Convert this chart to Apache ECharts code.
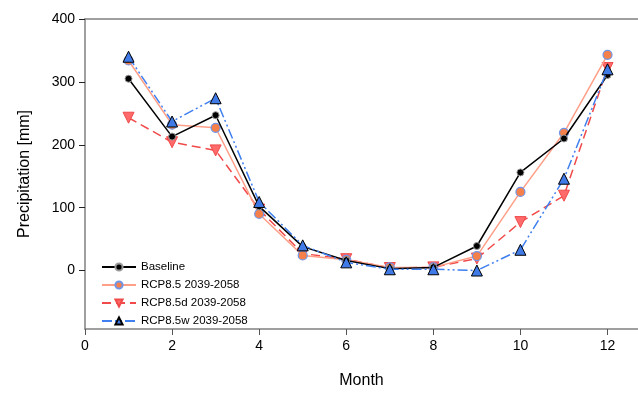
<!DOCTYPE html>
<html>
<head>
<meta charset="utf-8">
<script src="https://cdn.jsdelivr.net/npm/echarts@6/dist/echarts.min.js"></script>
<style>html,body{margin:0;padding:0;background:#fff;}#c{width:638px;height:394px;}</style>
</head>
<body>
<div id="c"></div>
<script>
const months = [1,2,3,4,5,6,7,8,9,10,11,12];
const baseline = [305,213,247,102,38,16,3,5,39,156,210,311];
const rcp85 = [334,232,227,90,24,17,5,5,23,125,219,343];
const rcp85d = [243,204,191,97,27,18,4,5,19,77,119,322];
const rcp85w = [340,237,274,109,40,13,2,2,0,33,146,320];
const seriesNames = ['Baseline','RCP8.5 2039-2058','RCP8.5d 2039-2058','RCP8.5w 2039-2058'];
const xTicks = [0,2,4,6,8,10,12];
const yTicks = [0,100,200,300,400];

function pairs(arr){ return months.map((m,i)=>[m,arr[i]]); }

const chart = echarts.init(document.getElementById('c'));
const font = 'Liberation Sans, Arial, sans-serif';
const axisCol = '#808080';
chart.setOption({
  animation:false,
  backgroundColor:'#fff',
  grid:{left:85,right:0,top:19,bottom:63,show:false},
  legend:{
    orient:'vertical', left:96, top:256, itemGap:6, itemWidth:34, itemHeight:9,
    textStyle:{fontFamily:font,fontSize:11.5,color:'#000'},
    data:seriesNames
  },
  xAxis:[{
    type:'value', min:0, max:12.7, position:'bottom',
    name:'Month', nameLocation:'middle', nameGap:44,
    nameTextStyle:{fontFamily:font,fontSize:16,color:'#000'},
    axisLine:{show:true,onZero:false,lineStyle:{color:axisCol,width:1.5}},
    axisTick:{show:true,inside:false,length:6,customValues:xTicks,lineStyle:{color:'#555'}},
    axisLabel:{fontFamily:font,fontSize:14,color:'#000',margin:10,customValues:xTicks},
    splitLine:{show:false}
  },{
    type:'value', min:0, max:12.7, position:'top',
    axisLine:{show:true,onZero:false,lineStyle:{color:axisCol,width:1.5}},
    axisTick:{show:false}, axisLabel:{show:false}, splitLine:{show:false}
  }],
  yAxis:{
    type:'value', min:-93, max:400,
    name:'Precipitation [mm]', nameLocation:'middle', nameGap:52,
    nameTextStyle:{fontFamily:font,fontSize:16,color:'#000'},
    axisLine:{show:true,onZero:false,lineStyle:{color:axisCol,width:1.5}},
    axisTick:{show:true,length:6,customValues:yTicks,lineStyle:{color:'#222'}},
    axisLabel:{fontFamily:font,fontSize:14,color:'#000',margin:10,customValues:yTicks},
    splitLine:{show:false}
  },
  series:[
    {name:seriesNames[0],type:'line',data:pairs(baseline),symbol:'circle',symbolSize:7,
     lineStyle:{color:'#000',width:1.5},itemStyle:{color:'#000',borderColor:'#999',borderWidth:1},z:4},
    {name:seriesNames[1],type:'line',data:pairs(rcp85),symbol:'circle',symbolSize:9,
     lineStyle:{color:'#ff9f88',width:1.5},itemStyle:{color:'#f5804a',borderColor:'#6f95e8',borderWidth:1.2},z:3},
    {name:seriesNames[2],type:'line',data:pairs(rcp85d),symbol:'triangle',symbolRotate:180,symbolSize:11,
     lineStyle:{color:'#f04a4a',width:1.5,type:[9,5]},itemStyle:{color:'#ff6a6a',borderColor:'#f04a4a',borderWidth:1},z:2},
    {name:seriesNames[3],type:'line',data:pairs(rcp85w),symbol:'triangle',symbolSize:11,
     lineStyle:{color:'#3f7ff0',width:1.5,type:[10,3,2,3,2,3]},itemStyle:{color:'#3f7ae6',borderColor:'#000',borderWidth:1},z:5}
  ]
});
</script>
</body>
</html>
